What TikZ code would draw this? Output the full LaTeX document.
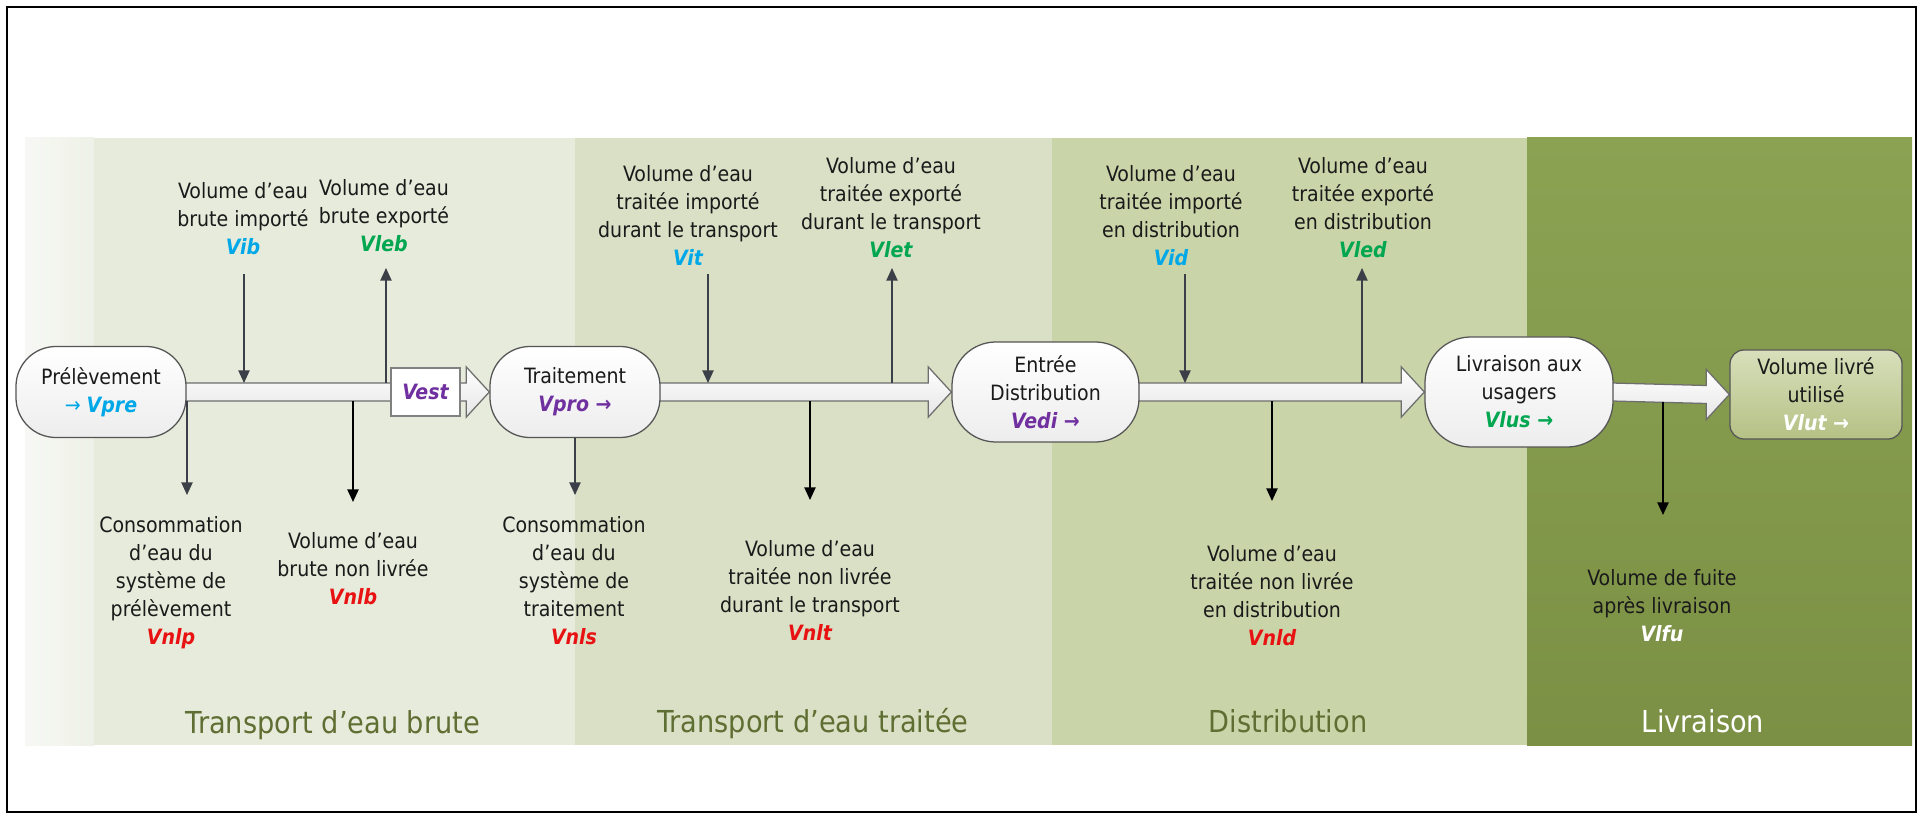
\documentclass[tikz,border=0pt]{standalone}
\usepackage{fontspec}
\setmainfont{DejaVu Sans Condensed}
\usetikzlibrary{calc,arrows.meta}

\definecolor{textdark}{HTML}{1A1A1A}
\definecolor{cyanV}{RGB}{0,168,232}
\definecolor{greenV}{RGB}{0,166,80}
\definecolor{redV}{RGB}{232,18,18}
\definecolor{purpleV}{HTML}{7030A0}
\definecolor{titleolive}{RGB}{95,110,50}
\definecolor{stripA}{HTML}{F7F8F4}
\definecolor{stripB}{HTML}{EEF1E7}
\definecolor{panelA}{HTML}{E6EBDB}
\definecolor{panelB}{HTML}{D9E0C6}
\definecolor{panelC}{HTML}{CAD4A9}
\definecolor{panelDtop}{HTML}{8BA253}
\definecolor{panelDbot}{HTML}{7B9044}
\definecolor{bandgray}{HTML}{6E6E6E}
\definecolor{bandbottom}{HTML}{E6E6E6}
\definecolor{nodegray}{HTML}{555555}
\definecolor{nodebottom}{HTML}{EDEDED}
\definecolor{conngray}{HTML}{3B3F47}
\definecolor{usetop}{HTML}{D8DFBB}
\definecolor{usebot}{HTML}{B5C185}

\pgfdeclarelayer{panels}
\pgfdeclarelayer{bands}
\pgfsetlayers{panels,bands,main}

% coloured bold-italic volume symbols
\newcommand{\vlab}[2]{\textcolor{#1}{\bfseries\itshape #2}}

% wide hollow arrow joining two stages
\newcommand{\flowband}[2]{%
  \path[band] ($(#1.east)+(-2,-9)$) -- ($(#2.west)+(-23,-9)$)
    -- ($(#2.west)+(-23,-25)$) -- (#2.west) -- ($(#2.west)+(-23,25)$)
    -- ($(#2.west)+(-23,9)$) -- ($(#1.east)+(-2,9)$) -- cycle;}

\tikzset{
  txt/.style={font=\fontsize{15pt}{19.9pt}\selectfont, text=textdark},
  lbl/.style={txt, align=center, inner sep=0pt, anchor=north},
  paneltitle/.style={font=\fontsize{21.5pt}{25pt}\selectfont, text=titleolive,
    anchor=base, inner sep=0pt},
  stage/.style={txt, align=center, draw=nodegray, line width=0.9pt,
    top color=white, bottom color=nodebottom, rounded corners=1cm, inner sep=0pt},
  usebox/.style={txt, align=center, draw=nodegray, line width=0.9pt,
    top color=usetop, bottom color=usebot, rounded corners=0.35cm, inner sep=0pt},
  vestbox/.style={txt, draw=gray, fill=white, line width=0.8pt, inner sep=0pt,
    minimum width=1.725cm, minimum height=1.2cm},
  conn/.style={draw=conngray, line width=1.1pt, -{Triangle[length=9pt,width=8pt]}},
  connk/.style={conn, draw=black},
  band/.style={draw=bandgray, line width=0.9pt, top color=white, bottom color=bandbottom},
}

\begin{document}
\begin{tikzpicture}[x=0.025cm, y=-0.025cm]
\useasboundingbox (0,0) rectangle (1923,821);

% background stages
\begin{pgfonlayer}{panels}
  \fill[white] (0,0) rectangle (1923,821);
  \fill[left color=stripA, right color=stripB] (25,138) rectangle (94,745);
  \fill[panelA] (94,138) rectangle (575,745);
  \fill[panelB] (575,138) rectangle (1052,745);
  \fill[panelC] (1052,138) rectangle (1527,745);
  \fill[top color=panelDtop, bottom color=panelDbot] (1527,138) rectangle (1912,745);
\end{pgfonlayer}

% stages
\node[stage, minimum width=4.25cm, minimum height=2.275cm] (pre) at (101,392)
  {Prélèvement\\\textcolor{cyanV}{→} \vlab{cyanV}{Vpre}};
\node[stage, minimum width=4.25cm, minimum height=2.275cm] (trt) at (575,392)
  {Traitement\\\vlab{purpleV}{Vpro →}};
\node[stage, minimum width=4.675cm, minimum height=2.5cm, rounded corners=1.1cm] (edi)
  at (1045.5,392) {Entrée\\Distribution\\\vlab{purpleV}{Vedi →}};
\node[stage, minimum width=4.7cm, minimum height=2.75cm, rounded corners=1.15cm] (lus)
  at (1519,392) {Livraison aux\\usagers\\\vlab{greenV}{Vlus →}};
\node[usebox, minimum width=4.3cm, minimum height=2.225cm] (lut) at (1816,394.5)
  {Volume livré\\utilisé\\\vlab{white}{Vlut →}};
\node[vestbox] (vest) at (425.5,392) {\vlab{purpleV}{Vest}};

% main flow
\begin{pgfonlayer}{bands}
  \flowband{pre}{trt}
  \flowband{trt}{edi}
  \flowband{edi}{lus}
  \flowband{lus}{lut}
\end{pgfonlayer}

% connector ends
\coordinate (vibA) at (244,274);   \coordinate (vibB) at (244,383);
\coordinate (vlebA) at (386,383);  \coordinate (vlebB) at (386,268);
\coordinate (vnlpA) at (187,401);  \coordinate (vnlpB) at (187,495);
\coordinate (vnlbA) at (353,401);  \coordinate (vnlbB) at (353,502);
\coordinate (vnlsB) at (575,495);
\coordinate (vitA) at (708,274);   \coordinate (vitB) at (708,383);
\coordinate (vletA) at (892,383);  \coordinate (vletB) at (892,268);
\coordinate (vnltA) at (810,401);  \coordinate (vnltB) at (810,500);
\coordinate (vidA) at (1185,274);  \coordinate (vidB) at (1185,383);
\coordinate (vledA) at (1362,383); \coordinate (vledB) at (1362,268);
\coordinate (vnldA) at (1272,401); \coordinate (vnldB) at (1272,501);
\coordinate (vlfuA) at (1663,402); \coordinate (vlfuB) at (1663,515);

% imports, exports and losses
\draw[conn] (vibA) -- (vibB);
\draw[conn] (vlebA) -- (vlebB);
\draw[conn] (vnlpA) -- (vnlpB);
\draw[connk] (vnlbA) -- (vnlbB);
\draw[conn] (trt.south) -- (vnlsB);
\draw[conn] (vitA) -- (vitB);
\draw[conn] (vletA) -- (vletB);
\draw[connk] (vnltA) -- (vnltB);
\draw[conn] (vidA) -- (vidB);
\draw[conn] (vledA) -- (vledB);
\draw[connk] (vnldA) -- (vnldB);
\draw[connk] (vlfuA) -- (vlfuB);

% labels above the flow
\node[lbl] (lvib) at (243,182) {Volume d’eau\\brute importé\\\vlab{cyanV}{Vib}};
\node[lbl] (lvleb) at (384,179) {Volume d’eau\\brute exporté\\\vlab{greenV}{Vleb}};
\node[lbl] (lvit) at (688,165) {Volume d’eau\\traitée importé\\durant le transport\\\vlab{cyanV}{Vit}};
\node[lbl] (lvlet) at (891,157) {Volume d’eau\\traitée exporté\\durant le transport\\\vlab{greenV}{Vlet}};
\node[lbl] (lvid) at (1171,165) {Volume d’eau\\traitée importé\\en distribution\\\vlab{cyanV}{Vid}};
\node[lbl] (lvled) at (1363,157) {Volume d’eau\\traitée exporté\\en distribution\\\vlab{greenV}{Vled}};

% labels below the flow
\node[lbl] (lvnlp) at (171,516) {Consommation\\d’eau du\\système de\\prélèvement\\\vlab{redV}{Vnlp}};
\node[lbl] (lvnlb) at (353,532) {Volume d’eau\\brute non livrée\\\vlab{redV}{Vnlb}};
\node[lbl] (lvnls) at (574,516) {Consommation\\d’eau du\\système de\\traitement\\\vlab{redV}{Vnls}};
\node[lbl] (lvnlt) at (810,540) {Volume d’eau\\traitée non livrée\\durant le transport\\\vlab{redV}{Vnlt}};
\node[lbl] (lvnld) at (1272,545) {Volume d’eau\\traitée non livrée\\en distribution\\\vlab{redV}{Vnld}};
\node[lbl] (lvlfu) at (1662,569) {Volume de fuite\\après livraison\\\vlab{white}{Vlfu}};

% stage titles
\node[paneltitle] (tbrute) at (333,733) {Transport d’eau brute};
\node[paneltitle] (ttraitee) at (813,732) {Transport d’eau traitée};
\node[paneltitle] (tdist) at (1288,732) {Distribution};
\node[paneltitle, text=white] (tliv) at (1703,732) {Livraison};

% frame
\draw[line width=1.4pt] (7,7) rectangle (1916,812);
\end{tikzpicture}
\end{document}
